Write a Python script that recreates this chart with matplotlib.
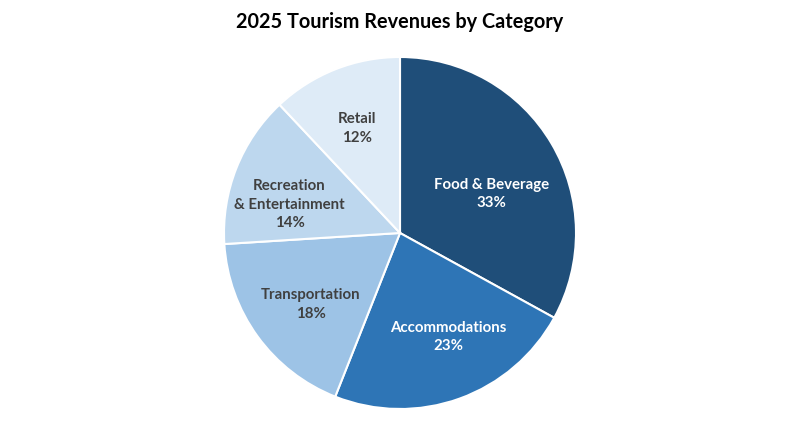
import matplotlib.pyplot as plt

categories = ['Food & Beverage', 'Accommodations', 'Transportation',
              'Recreation\n& Entertainment', 'Retail']
shares = [33, 23, 18, 14, 12]
colors = ['#1F4E79', '#2E75B6', '#9DC3E6', '#BDD7EE', '#DEEBF7']
text_colors = ['white', 'white', '#404040', '#404040', '#404040']

# label placement tweaks (radial distance, nudges)
label_dist = [0.57, 0.64, 0.64, 0.60, 0.66]
label_dx = [0.03, 0.06, 0.01, -0.07, 0.0]
label_dy = [-0.07, 0.01, -0.03, -0.06, -0.02]

plt.rcParams['font.family'] = ['Lato', 'DejaVu Sans']

fig = plt.figure(figsize=(8, 4.38), dpi=100)
ax = fig.add_axes([0.28, 0.0662, 0.44, 0.8037])

labels = ['%s\n%d%%' % (c, s) for c, s in zip(categories, shares)]
wedges, texts = ax.pie(shares, colors=colors, startangle=90, counterclock=False,
                       labels=labels, labeldistance=1.0,
                       wedgeprops=dict(edgecolor='white', linewidth=1.5),
                       textprops=dict(fontsize=10.8, fontweight='bold',
                                      ha='center', va='center',
                                      multialignment='center', linespacing=1.4))
for t, c, d, dx, dy in zip(texts, text_colors, label_dist, label_dx, label_dy):
    x, y = t.get_position()
    t.set_position((x * d + dx, y * d + dy))
    t.set_color(c)
    t.set_horizontalalignment('center')

ax.set_xlim(-1, 1)
ax.set_ylim(-1, 1)
ax.set_aspect('equal')

fig.text(0.5, 1 - 22 / 438, '2025 Tourism Revenues by Category',
         ha='center', va='center', fontsize=14.3, fontweight='bold', color='black')

fig.savefig('out.png', dpi=100)
